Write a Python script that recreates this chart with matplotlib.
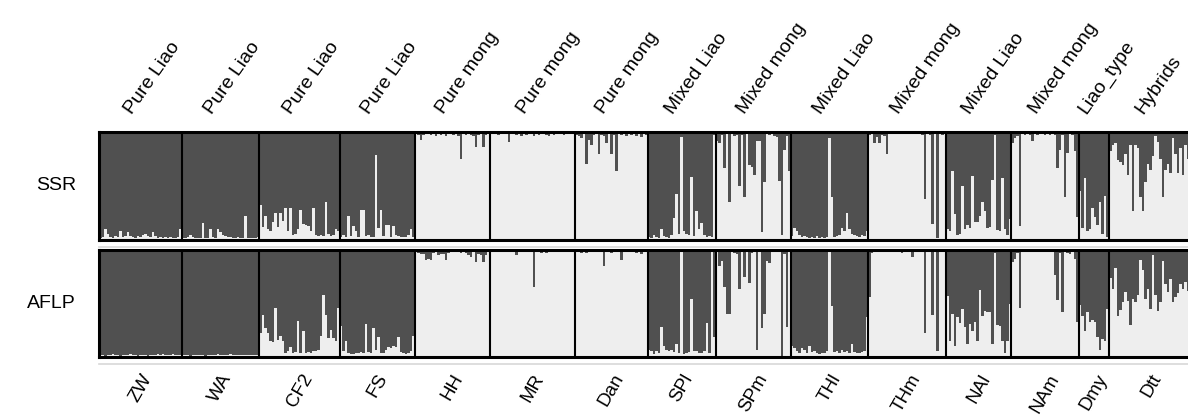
import numpy as np
import matplotlib
matplotlib.use('Agg')
import matplotlib.pyplot as plt
from matplotlib.transforms import blended_transform_factory

plt.rcParams['font.family'] = ['Liberation Sans', 'DejaVu Sans']

# populations (bottom labels) and their type (top labels)
populations = ['ZW', 'WA', 'CF2', 'FS', 'HH', 'MR', 'Dan', 'SPl', 'SPm',
               'THl', 'THm', 'NAl', 'NAm', 'Dmy', 'Dtt']
pop_types = ['Pure Liao', 'Pure Liao', 'Pure Liao', 'Pure Liao',
             'Pure mong', 'Pure mong', 'Pure mong',
             'Mixed Liao', 'Mixed mong', 'Mixed Liao', 'Mixed mong',
             'Mixed Liao', 'Mixed mong', 'Liao_type', 'Hybrids']
markers = ['SSR', 'AFLP']

# membership in the light cluster (bottom), per individual, per population
ssr_q = [
    [0.02, 0.03, 0.10, 0.06, 0.03, 0.02, 0.04, 0.03, 0.08, 0.03, 0.04, 0.07, 0.04, 0.03, 0.02, 0.04, 0.03,
     0.05, 0.06, 0.04, 0.03, 0.07, 0.04, 0.02, 0.03, 0.02, 0.03, 0.02, 0.03, 0.02, 0.02, 0.03, 0.10],
    [0.02, 0.02, 0.03, 0.05, 0.03, 0.02, 0.02, 0.02, 0.16, 0.02, 0.02, 0.10, 0.03, 0.02, 0.10, 0.07, 0.05,
     0.04, 0.03, 0.03, 0.02, 0.02, 0.03, 0.02, 0.02, 0.22, 0.02, 0.02, 0.02, 0.02, 0.03],
    [0.32, 0.12, 0.22, 0.10, 0.08, 0.17, 0.25, 0.12, 0.25, 0.18, 0.30, 0.08, 0.30, 0.05, 0.06, 0.10, 0.28,
     0.15, 0.14, 0.13, 0.08, 0.30, 0.05, 0.04, 0.05, 0.04, 0.35, 0.06, 0.04, 0.05, 0.10, 0.08],
    [0.03, 0.05, 0.03, 0.22, 0.04, 0.13, 0.08, 0.03, 0.28, 0.28, 0.04, 0.05, 0.03, 0.03, 0.79, 0.11, 0.28,
     0.04, 0.14, 0.14, 0.03, 0.13, 0.05, 0.04, 0.03, 0.03, 0.03, 0.05, 0.10, 0.03],
    [0.98, 0.97, 0.93, 0.97, 0.98, 0.98, 0.97, 0.98, 0.96, 0.98, 0.97, 0.98, 0.96, 0.98, 0.99, 0.97, 0.98,
     0.96, 0.75, 0.98, 0.97, 0.98, 0.97, 0.96, 0.86, 0.97, 0.98, 0.86, 0.97, 0.98],
    [0.98, 0.99, 0.98, 0.97, 0.99, 0.98, 0.98, 0.91, 0.98, 0.99, 0.97, 0.98, 0.96, 0.98, 0.97, 0.99, 0.98,
     0.96, 0.98, 0.97, 0.98, 0.99, 0.97, 0.96, 0.98, 0.97, 0.98, 0.99, 0.98, 0.97, 0.98, 0.99, 0.98, 0.98],
    [0.97, 0.96, 0.94, 0.98, 0.70, 0.93, 0.88, 0.97, 0.98, 0.80, 0.97, 0.96, 0.90, 0.98, 0.80, 0.97, 0.64,
     0.98, 0.97, 0.98, 0.96, 0.98, 0.97, 0.98, 0.96, 0.98, 0.95, 0.98, 0.97],
    [0.03, 0.02, 0.05, 0.03, 0.02, 0.10, 0.04, 0.03, 0.02, 0.05, 0.20, 0.43, 0.06, 0.95, 0.08, 0.06, 0.05,
     0.58, 0.04, 0.27, 0.10, 0.16, 0.05, 0.03, 0.04, 0.03, 0.97],
    [0.92, 0.90, 0.97, 0.67, 0.98, 0.35, 0.98, 0.96, 0.97, 0.50, 0.97, 0.40, 0.98, 0.69, 0.68, 0.60, 0.92,
     0.92, 0.07, 0.54, 0.98, 0.97, 0.98, 0.96, 0.95, 0.55, 0.05, 0.83, 0.96, 0.64],
    [0.04, 0.11, 0.08, 0.05, 0.03, 0.04, 0.03, 0.02, 0.03, 0.02, 0.04, 0.02, 0.03, 0.02, 0.03, 0.94, 0.40,
     0.03, 0.04, 0.05, 0.11, 0.08, 0.25, 0.10, 0.06, 0.05, 0.04, 0.03, 0.05, 0.04, 0.08],
    [0.97, 0.98, 0.90, 0.95, 0.90, 0.97, 0.96, 0.80, 0.98, 0.98, 0.99, 0.98, 0.98, 0.99, 0.98, 0.98, 0.99,
     0.98, 0.98, 0.99, 0.98, 0.97, 0.38, 0.98, 0.97, 0.15, 0.98, 0.02, 0.98, 0.97, 0.98],
    [0.10, 0.08, 0.64, 0.24, 0.05, 0.06, 0.50, 0.10, 0.14, 0.11, 0.59, 0.17, 0.17, 0.22, 0.35, 0.27, 0.11,
     0.12, 0.56, 0.97, 0.09, 0.08, 0.57, 0.10, 0.05, 0.19],
    [0.90, 0.94, 0.96, 0.13, 0.98, 0.97, 0.98, 0.97, 0.92, 0.98, 0.97, 0.98, 0.98, 0.97, 0.98, 0.97, 0.98,
     0.97, 0.67, 0.83, 0.97, 0.40, 0.81, 0.98, 0.97, 0.82, 0.21],
    [0.45, 0.11, 0.57, 0.08, 0.10, 0.30, 0.21, 0.14, 0.35, 0.06, 0.41, 0.03],
    [0.82, 0.88, 0.90, 0.74, 0.72, 0.69, 0.80, 0.60, 0.88, 0.27, 0.88, 0.85, 0.40, 0.27, 0.54, 0.70, 0.65,
     0.78, 0.96, 0.91, 0.75, 0.40, 0.65, 0.70, 0.62, 0.94, 0.80, 0.62, 0.85, 0.60, 0.88, 0.75, 0.80, 0.70],
]

aflp_q = [
    [0.02, 0.02, 0.01, 0.02, 0.02, 0.03, 0.02, 0.02, 0.01, 0.02, 0.02, 0.02, 0.03, 0.02, 0.02, 0.01, 0.02,
     0.02, 0.02, 0.01, 0.02, 0.02, 0.02, 0.03, 0.02, 0.03, 0.02, 0.02, 0.02, 0.03, 0.02, 0.02, 0.02],
    [0.02, 0.02, 0.02, 0.01, 0.02, 0.02, 0.02, 0.02, 0.02, 0.01, 0.02, 0.02, 0.02, 0.02, 0.03, 0.02, 0.02,
     0.02, 0.02, 0.03, 0.02, 0.02, 0.02, 0.02, 0.02, 0.02, 0.02, 0.02, 0.02, 0.02, 0.02],
    [0.22, 0.39, 0.27, 0.22, 0.15, 0.14, 0.46, 0.16, 0.20, 0.15, 0.04, 0.06, 0.09, 0.04, 0.05, 0.34, 0.04,
     0.24, 0.04, 0.05, 0.04, 0.06, 0.06, 0.07, 0.20, 0.58, 0.39, 0.18, 0.25, 0.18, 0.15, 0.46],
    [0.29, 0.06, 0.15, 0.04, 0.03, 0.03, 0.04, 0.04, 0.05, 0.04, 0.31, 0.05, 0.04, 0.27, 0.07, 0.19, 0.04,
     0.04, 0.07, 0.09, 0.08, 0.10, 0.09, 0.19, 0.05, 0.04, 0.03, 0.04, 0.06, 0.20],
    [0.98, 0.97, 0.96, 0.96, 0.91, 0.92, 0.91, 0.97, 0.98, 0.95, 0.96, 0.96, 0.91, 0.97, 0.98, 0.98, 0.98,
     0.98, 0.97, 0.98, 0.97, 0.95, 0.93, 0.98, 0.89, 0.96, 0.95, 0.89, 0.95, 0.98],
    [0.99, 0.98, 0.99, 0.98, 0.99, 0.99, 0.98, 0.99, 0.98, 0.99, 0.95, 0.98, 0.99, 0.98, 0.99, 0.98, 0.99,
     0.65, 0.99, 0.98, 0.97, 0.98, 0.97, 0.99, 0.98, 0.99, 0.98, 0.99, 0.98, 0.99, 0.98, 0.99, 0.98, 0.98],
    [0.99, 0.98, 0.97, 0.98, 0.97, 0.99, 0.98, 0.99, 0.98, 0.99, 0.98, 0.85, 0.99, 0.98, 0.97, 0.99, 0.98,
     0.99, 0.91, 0.98, 0.99, 0.98, 0.99, 0.98, 0.97, 0.99, 0.96, 0.98, 0.99],
    [0.07, 0.06, 0.03, 0.06, 0.04, 0.28, 0.10, 0.07, 0.06, 0.07, 0.05, 0.12, 0.04, 0.99, 0.03, 0.04, 0.05,
     0.54, 0.06, 0.06, 0.04, 0.04, 0.06, 0.32, 0.04, 0.98, 0.19],
    [0.99, 0.85, 0.90, 0.65, 0.40, 0.40, 0.98, 0.97, 0.96, 0.64, 0.98, 0.75, 0.98, 0.69, 0.97, 0.98, 0.07,
     0.99, 0.27, 0.40, 0.90, 0.88, 0.99, 0.98, 0.99, 0.98, 0.01, 0.96, 0.28, 0.98],
    [0.10, 0.08, 0.06, 0.04, 0.08, 0.07, 0.04, 0.10, 0.05, 0.06, 0.04, 0.03, 0.04, 0.04, 0.06, 0.99, 0.48,
     0.05, 0.06, 0.04, 0.07, 0.05, 0.06, 0.04, 0.12, 0.05, 0.04, 0.04, 0.05, 0.06, 0.37],
    [0.56, 0.97, 0.99, 0.98, 0.99, 0.98, 0.98, 0.99, 0.99, 0.99, 0.98, 0.99, 0.99, 0.97, 0.99, 0.99, 0.98,
     0.93, 0.99, 0.99, 0.99, 0.98, 0.22, 0.99, 0.98, 0.39, 0.98, 0.06, 0.98, 0.99, 0.99],
    [0.57, 0.15, 0.40, 0.10, 0.37, 0.32, 0.45, 0.28, 0.12, 0.31, 0.24, 0.33, 0.15, 0.63, 0.38, 0.43, 0.42,
     0.42, 0.12, 0.97, 0.30, 0.29, 0.15, 0.04, 0.15, 0.50],
    [0.89, 0.92, 0.97, 0.46, 0.99, 0.99, 0.98, 0.99, 0.99, 0.99, 0.98, 0.99, 0.99, 0.99, 0.99, 0.98, 0.99,
     0.77, 0.53, 0.97, 0.42, 0.98, 0.97, 0.96, 0.98, 0.92, 0.33],
    [0.49, 0.38, 0.24, 0.42, 0.33, 0.35, 0.33, 0.19, 0.07, 0.17, 0.15, 0.45],
    [0.74, 0.64, 0.83, 0.38, 0.44, 0.51, 0.61, 0.52, 0.30, 0.54, 0.51, 0.58, 0.91, 0.81, 0.54, 0.64, 0.45,
     0.95, 0.58, 0.43, 0.51, 0.90, 0.68, 0.61, 0.73, 0.51, 0.56, 0.60, 0.68, 0.64, 0.70, 0.62, 0.66, 0.60],
]

for a, b, p in zip(ssr_q, aflp_q, populations):
    assert len(a) == len(b), (p, len(a), len(b))

dark = '#505050'
light = '#eeeeee'

sizes = np.array([len(g) for g in ssr_q])
bounds = np.concatenate([[0], np.cumsum(sizes)])
centers = (bounds[:-1] + bounds[1:]) / 2
n_total = bounds[-1]

W, H = 1188, 417
fig = plt.figure(figsize=(W / 100, H / 100), dpi=100)

# pixel layout: last group (Dtt) runs off the right edge like the original
left_px, dmy_end_px = 99, 1109
px_per_ind = (dmy_end_px - left_px) / bounds[-2]
ax_w = n_total * px_per_ind / W

panels = [(132, 240), (250, 357)]  # top/bottom pixel rows of each panel
axes = []
for (top, bot), data in zip(panels, [ssr_q, aflp_q]):
    ax = fig.add_axes([left_px / W, 1 - bot / H, ax_w, (bot - top) / H])
    q = np.concatenate(data)
    edges = np.arange(n_total + 1)
    ax.stairs(np.ones(n_total), edges, fill=True, color=dark, linewidth=0)
    ax.stairs(q, edges, fill=True, color=light, linewidth=0)
    for b in bounds[1:-1]:
        ax.axvline(b, color='black', linewidth=1.5)
    ax.set_xlim(0, n_total)
    ax.set_ylim(0, 1)
    ax.set_xticks([])
    ax.set_yticks([])
    for s in ax.spines.values():
        s.set_linewidth(2.2)
        s.set_color('black')
    # faint grey rule under each panel
    fig.add_artist(plt.Line2D([left_px / W, 1], [1 - (bot + 7) / H] * 2,
                              color='#d8d8d8', linewidth=1.2))
    axes.append(ax)

ax_ssr, ax_aflp = axes

for (top, bot), name in zip(panels, markers):
    fig.text(76 / W, 1 - ((top + bot) / 2) / H, name, ha='right', va='center', fontsize=14)

# population type labels above
tr_top = blended_transform_factory(ax_ssr.transData, fig.transFigure)
for c, t in zip(centers, pop_types):
    ax_ssr.text(c - 2, 1 - 117 / H, t, transform=tr_top, rotation=55,
                rotation_mode='anchor', ha='left', va='bottom', fontsize=14)

# population codes below
tr_bot = blended_transform_factory(ax_aflp.transData, fig.transFigure)
for c, p in zip(centers, populations):
    ax_aflp.text(c, 1 - 371 / H, p, transform=tr_bot, rotation=60,
                 ha='center', va='top', fontsize=13.5)

fig.savefig('out.png', dpi=100)
